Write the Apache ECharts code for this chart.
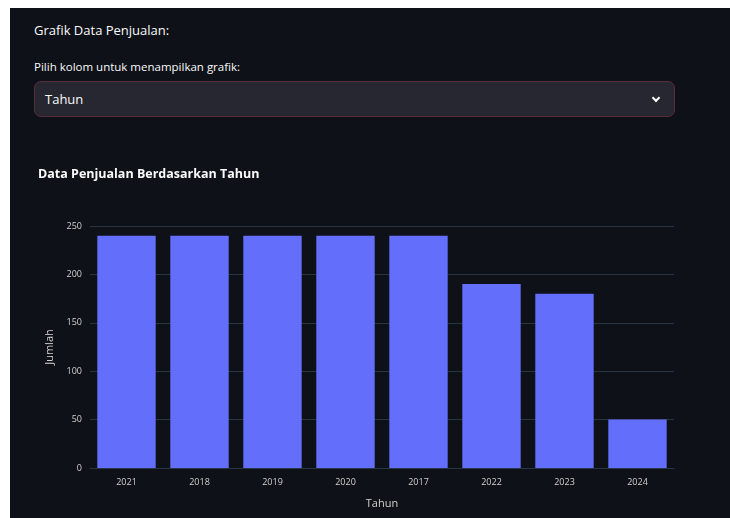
<!DOCTYPE html>
<html>
<head>
<meta charset="utf-8">
<script src="https://cdn.jsdelivr.net/npm/echarts@6/dist/echarts.min.js"></script>
<style>
  html, body { margin: 0; padding: 0; background: #fff; }
  #page {
    position: absolute; left: 10px; top: 8px; width: 720px; height: 510px;
    background: #0e1117; font-family: "Open Sans", "Noto Sans", sans-serif; color: #fafafa;
  }
  .lbl1 { position: absolute; left: 24px; top: 13px; font-size: 13px; }
  .lbl2 { position: absolute; left: 24px; top: 51px; font-size: 11.5px; }
  #select {
    position: absolute; left: 24px; top: 73px; width: 641px; height: 36px;
    background: #262730; border: 1px solid #5b2d3c; border-radius: 7px; box-sizing: border-box;
  }
  #select span { position: absolute; left: 10px; top: 8px; font-size: 13px; }
  #select i {
    position: absolute; right: 15px; top: 13px; width: 4px; height: 4px;
    border-right: 2px solid #fafafa; border-bottom: 2px solid #fafafa; transform: rotate(45deg);
  }
  #chart { position: absolute; left: 0; top: 142px; width: 720px; height: 368px; }
</style>
</head>
<body>
<div id="page">
  <div class="lbl1">Grafik Data Penjualan:</div>
  <div class="lbl2">Pilih kolom untuk menampilkan grafik:</div>
  <div id="select"><span>Tahun</span><i></i></div>
  <div id="chart"></div>
</div>
<script>
// data
var tahun = ["2021", "2018", "2019", "2020", "2017", "2022", "2023", "2024"];
var jumlah = [240, 240, 240, 240, 240, 190, 180, 50];
var yTicks = [0, 50, 100, 150, 200, 250];

var chart = echarts.init(document.getElementById("chart"));
var option = {
  backgroundColor: "#0e1117",
  textStyle: { fontFamily: "Open Sans" },
  title: {
    text: "Data Penjualan Berdasarkan Tahun",
    left: 23,
    top: 13,
    textStyle: { color: "#fafafa", fontSize: 12.5, fontWeight: "bold" }
  },
  grid: { left: 80, right: 56, top: 76, bottom: 50 },
  xAxis: {
    type: "category",
    data: tahun,
    name: "Tahun",
    nameLocation: "middle",
    nameGap: 30,
    nameTextStyle: { color: "#d0d0d0", fontSize: 11 },
    axisLine: { lineStyle: { color: "#283442" } },
    axisTick: { show: false },
    axisLabel: { color: "#d0d0d0", fontSize: 9, margin: 10 }
  },
  yAxis: {
    type: "value",
    min: 0,
    max: yTicks[yTicks.length - 1],
    interval: 50,
    name: "Jumlah",
    nameLocation: "middle",
    nameGap: 25,
    nameTextStyle: { color: "#d0d0d0", fontSize: 11 },
    axisLabel: { color: "#d0d0d0", fontSize: 9, margin: 8 },
    splitLine: { lineStyle: { color: "#283442", width: 1 } }
  },
  series: [{
    type: "bar",
    data: jumlah,
    barCategoryGap: "20%",
    itemStyle: { color: "#636efa" }
  }]
};
chart.setOption(option);
</script>
</body>
</html>
